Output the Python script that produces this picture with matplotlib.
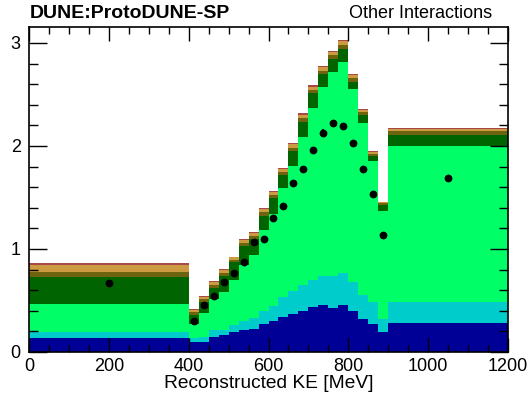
import numpy as np
import matplotlib
matplotlib.use("Agg")
import matplotlib.pyplot as plt
from matplotlib.ticker import MultipleLocator

plt.rcParams['font.family'] = ['Liberation Sans', 'DejaVu Sans']

# bin edges: one wide bin, twenty 25 MeV bins, one wide bin
bin_edges = [0, 400, 425, 450, 475, 500, 525, 550, 575, 600, 625, 650,
             675, 700, 725, 750, 775, 800, 825, 850, 875, 900, 1200]

# stacked components, bottom to top (heights per bin)
navy = [0.140, 0.100, 0.100, 0.150, 0.165, 0.190, 0.210, 0.220, 0.275, 0.300, 0.335,
        0.370, 0.400, 0.440, 0.455, 0.430, 0.456, 0.400, 0.317, 0.270, 0.190, 0.280]
cyan = [0.055, 0.033, 0.048, 0.062, 0.052, 0.070, 0.087, 0.106, 0.120, 0.150, 0.195,
        0.220, 0.250, 0.260, 0.282, 0.307, 0.307, 0.280, 0.239, 0.216, 0.133, 0.210]
green = [0.268, 0.135, 0.227, 0.303, 0.363, 0.440, 0.548, 0.614, 0.789, 0.887, 1.059,
         1.216, 1.440, 1.670, 1.839, 1.983, 2.057, 1.870, 1.664, 1.364, 1.047, 1.510]
dark_green = [0.268, 0.092, 0.113, 0.110, 0.161, 0.170, 0.185, 0.160, 0.139, 0.161, 0.131,
              0.144, 0.140, 0.140, 0.120, 0.125, 0.120, 0.075, 0.080, 0.056, 0.057, 0.110]
olive = [0.049, 0.024, 0.026, 0.028, 0.029, 0.025, 0.028, 0.030, 0.032, 0.030, 0.031,
         0.035, 0.038, 0.035, 0.036, 0.035, 0.040, 0.032, 0.027, 0.020, 0.015, 0.033]
gold = [0.065, 0.022, 0.024, 0.026, 0.026, 0.023, 0.026, 0.028, 0.029, 0.027, 0.028,
        0.032, 0.035, 0.032, 0.032, 0.032, 0.036, 0.028, 0.024, 0.017, 0.013, 0.019]
red = [0.022, 0.009, 0.009, 0.010, 0.010, 0.009, 0.010, 0.010, 0.011, 0.010, 0.011,
       0.013, 0.014, 0.013, 0.013, 0.013, 0.014, 0.011, 0.009, 0.007, 0.005, 0.013]

# data points
data = [0.667, 0.304, 0.456, 0.547, 0.680, 0.764, 0.870, 1.065, 1.097, 1.298, 1.420,
        1.645, 1.780, 1.958, 2.130, 2.220, 2.190, 2.026, 1.780, 1.530, 1.140, 1.690]
data_err = [0.010, 0.015, 0.015, 0.018, 0.018, 0.020, 0.020, 0.022, 0.022, 0.025, 0.025,
            0.028, 0.028, 0.030, 0.030, 0.030, 0.030, 0.030, 0.028, 0.025, 0.020, 0.015]

layers = [navy, cyan, green, dark_green, olive, gold, red]
colors = ['#000096', '#00cccc', '#00ff66', '#006400', '#6e6410', '#cc9a40', '#a84848']

fig = plt.figure(figsize=(5.28, 3.97), dpi=100)
ax = fig.add_axes([29 / 528, 1 - 352 / 397, 479 / 528, 325 / 397])

edges = np.array(bin_edges)
bottom = np.zeros(len(navy))
for vals, col in zip(layers, colors):
    top = bottom + np.array(vals)
    ax.stairs(top, edges, baseline=bottom, fill=True, color=col, lw=0)
    bottom = top

centers = 0.5 * (edges[:-1] + edges[1:])
ax.errorbar(centers, data, yerr=data_err, fmt='o', color='black', ms=4.6,
            elinewidth=1.6, capsize=0, zorder=5)

ax.set_xlim(0, 1200)
ax.set_ylim(0, 3.155)
ax.xaxis.set_major_locator(MultipleLocator(200))
ax.xaxis.set_minor_locator(MultipleLocator(50))
ax.yaxis.set_major_locator(MultipleLocator(1))
ax.yaxis.set_minor_locator(MultipleLocator(0.2))
ax.tick_params(which='both', direction='in', top=True, right=True, labelsize=13, width=1)
ax.tick_params(axis='x', which='major', length=10, pad=4)
ax.tick_params(axis='x', which='minor', length=5)
ax.tick_params(axis='y', which='major', length=13, pad=6)
ax.tick_params(axis='y', which='minor', length=6.5)
for sp in ax.spines.values():
    sp.set_linewidth(1.2)
    sp.set_zorder(10)
ax.set_axisbelow(False)

ax.set_xlabel("Reconstructed KE [MeV]", fontsize=13.8, labelpad=0)

fig.text(30 / 528, 1 - 13 / 397, "DUNE:ProtoDUNE-SP", fontsize=14, weight='bold',
         ha='left', va='center')
fig.text(492 / 528, 1 - 13 / 397, "Other Interactions", fontsize=13,
         ha='right', va='center')

fig.savefig("out.png", dpi=100)
